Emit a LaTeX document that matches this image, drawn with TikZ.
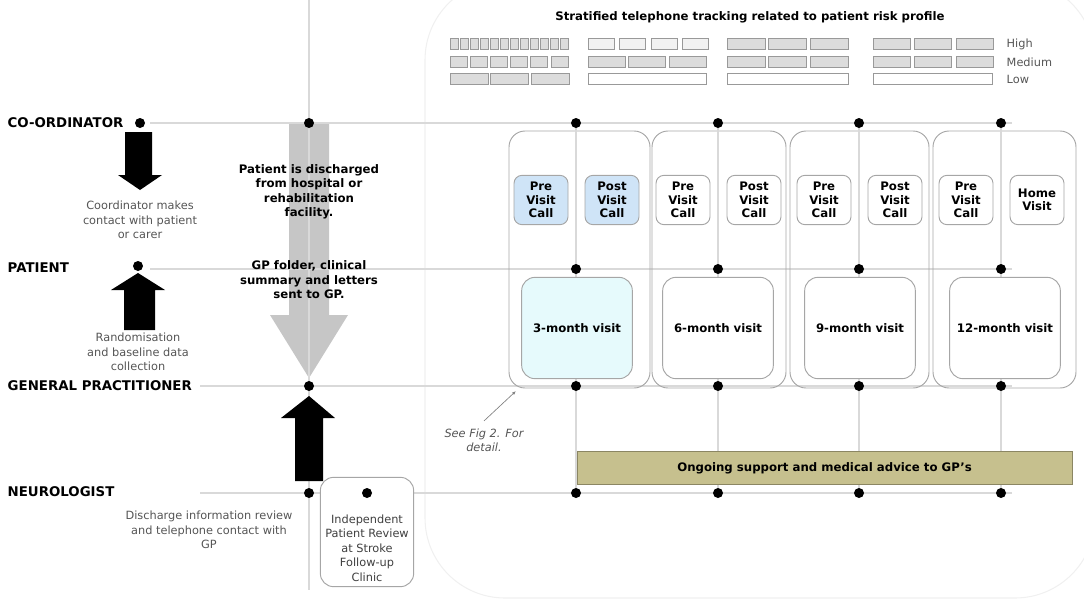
\documentclass[tikz,border=0pt]{standalone}
\usepackage{fontspec}
\setmainfont{DejaVu Sans}
\usetikzlibrary{arrows.meta}
\definecolor{lineg}{HTML}{D9D9D9}
\definecolor{txtg}{HTML}{555555}
\definecolor{callblue}{HTML}{CFE4F7}
\definecolor{visitcyan}{HTML}{E6FAFC}
\definecolor{olive}{HTML}{C6C08E}
\definecolor{cellg}{HTML}{DCDCDC}
\begin{document}
\begin{tikzpicture}[x=0.75pt,y=-0.75pt,
  dot/.style={circle,fill=black,inner sep=0pt,minimum size=7.5pt},
  role/.style={anchor=west,font=\fontsize{10}{11}\selectfont\bfseries},
  note/.style={align=center,text=txtg,font=\fontsize{8.5}{10.8}\selectfont},
  bnote/.style={align=center,font=\fontsize{8.8}{10.8}\selectfont\bfseries},
  lane/.style={draw=lineg,line width=0.8pt},
  grp/.style={draw=gray!70,rounded corners=12pt,line width=0.7pt},
  call/.style={draw=gray!70,rounded corners=6pt,line width=0.7pt,minimum width=40.5pt,minimum height=37pt,align=center,font=\fontsize{8.8}{10}\selectfont\bfseries},
  visit/.style={draw=gray!70,rounded corners=10pt,line width=0.7pt,minimum width=83pt,minimum height=76pt,font=\fontsize{8.8}{10}\selectfont\bfseries},
  cell/.style={draw=gray!80,fill=cellg,line width=0.5pt},
  blk/.style={fill=black},
]
\useasboundingbox (0,0) rectangle (1084,600);
% background region
\draw[draw=gray!12,line width=0.8pt,rounded corners=60pt] (425,-20) rectangle (1095,598);
% big grey arrow (behind the lanes)
\fill[gray!45] (289,124) -- (329,124) -- (329,315) -- (348,315) -- (309,378) -- (270,315) -- (289,315) -- cycle;
% lanes
\draw[lane] (309,0) -- (309,590);
\node[role] (lco) at (3,123) {CO-ORDINATOR};
\node[role] (lpa) at (3,268) {PATIENT};
\node[role] (lgp) at (3,386) {GENERAL PRACTITIONER};
\node[role] (lne) at (3,492) {NEUROLOGIST};
\coordinate (eco) at (1012,123);
\coordinate (epa) at (1012,269);
\coordinate (egp) at (1012,386);
\coordinate (ene) at (1012,493);
\draw[lane] (150,123) -- (eco);
\draw[lane] (150,269) -- (epa);
\draw[lane] (200,386) -- (egp);
\draw[lane] (200,493) -- (ene);
% title and risk grid
\node[font=\fontsize{8.8}{10}\selectfont\bfseries] (title) at (750,17) {Stratified telephone tracking related to patient risk profile};
\foreach \i in {0,...,11} \draw[cell] (450+\i*10,38) rectangle (458.5+\i*10,49);
\foreach \i in {0,...,5} \draw[cell] (450+\i*20.2,56) rectangle (467+\i*20.2,67);
\foreach \i in {0,...,2} \draw[cell] (450+\i*40.5,73) rectangle (488+\i*40.5,84);
\foreach \i in {0,...,3} \draw[draw=gray!80,fill=gray!10,line width=0.5pt] (588+\i*31.5,38) rectangle (614+\i*31.5,49);
\foreach \i in {0,...,2} \draw[cell] (588+\i*40.5,56) rectangle (625+\i*40.5,67);
\draw[draw=gray!80,line width=0.5pt] (588,73) rectangle (706,84);
\foreach \i in {0,...,2} \draw[cell] (727+\i*41.5,38) rectangle (765+\i*41.5,49);
\foreach \i in {0,...,2} \draw[cell] (727+\i*41.5,56) rectangle (765+\i*41.5,67);
\draw[draw=gray!80,line width=0.5pt] (727,73) rectangle (848,84);
\foreach \i in {0,...,2} \draw[cell] (873+\i*41.5,38) rectangle (910+\i*41.5,49);
\foreach \i in {0,...,2} \draw[cell] (873+\i*41.5,56) rectangle (910+\i*41.5,67);
\draw[draw=gray!80,line width=0.5pt] (873,73) rectangle (992,84);
\node[anchor=west,text=txtg,font=\fontsize{8.5}{9}\selectfont] (hi) at (1002,44) {High};
\node[anchor=west,text=txtg,font=\fontsize{8.5}{9}\selectfont] (me) at (1002,62) {Medium};
\node[anchor=west,text=txtg,font=\fontsize{8.5}{9}\selectfont] (lo) at (1002,79) {Low};
% group boxes
\draw[grp] (509,131) rectangle (650,388);
\draw[grp] (652,131) rectangle (786,388);
\draw[grp] (790,131) rectangle (929,388);
\draw[grp] (933,131) rectangle (1076,388);
% vertical timeline lines
\foreach \x in {576,718,859,1001}{
  \draw[lane] (\x,123) -- (\x,493);
}
\node[call,fill=callblue] (pre1) at (541,200) {Pre\\Visit\\Call};
\node[call,fill=callblue] (post1) at (612,200) {Post\\Visit\\Call};
\node[call,fill=white] (pre2) at (683,200) {Pre\\Visit\\Call};
\node[call,fill=white] (post2) at (754,200) {Post\\Visit\\Call};
\node[call,fill=white] (pre3) at (824,200) {Pre\\Visit\\Call};
\node[call,fill=white] (post3) at (895,200) {Post\\Visit\\Call};
\node[call,fill=white] (pre4) at (966,200) {Pre\\Visit\\Call};
\node[call,fill=white] (home4) at (1037,200) {Home\\Visit};
\node[visit,fill=visitcyan] (v3) at (577,328) {3-month visit};
\node[visit,fill=white] (v6) at (718,328) {6-month visit};
\node[visit,fill=white] (v9) at (860,328) {9-month visit};
\node[visit,fill=white] (v12) at (1005,328) {12-month visit};
\node[draw=olive!70!black,fill=olive,minimum width=371pt,minimum height=25pt,font=\fontsize{8.8}{10}\selectfont\bfseries] (sup) at (824.5,468) {Ongoing support and medical advice to GP’s};
% dots on timeline
\foreach \x/\n in {576/a,718/b,859/c,1001/d}{
  \node[dot] (c\n) at (\x,123) {};
  \node[dot] (p\n) at (\x,269) {};
  \node[dot] (g\n) at (\x,386) {};
  \node[dot] (n\n) at (\x,493) {};
}
% left column
\node[dot] (dco) at (140,123) {};
\node[dot] (dpa) at (138,266) {};
\node[dot] (dco2) at (309,123) {};
\node[dot] (dgp) at (309,386) {};
\node[dot] (dne) at (309,493) {};
\node[bnote] (dis) at (309,192) {Patient is discharged\\from hospital or\\rehabilitation\\facility.};
\node[bnote] (gpf) at (309,280) {GP folder, clinical\\summary and letters\\sent to GP.};
% black arrows
\fill[blk] (125,132) -- (152,132) -- (152,175) -- (162,175) -- (140,190) -- (118,175) -- (125,175) -- cycle;
\fill[blk] (124,330) -- (155,330) -- (155,290) -- (165,290) -- (138,273) -- (111,290) -- (124,290) -- cycle;
\fill[blk] (295,481) -- (323,481) -- (323,418) -- (335,418) -- (309,396) -- (281,418) -- (295,418) -- cycle;
\node[note] (tco) at (140,220) {Coordinator makes\\contact with patient\\or carer};
\node[note] (tpa) at (138,352) {Randomisation\\and baseline data\\collection};
\node[note] (tne) at (209,530) {Discharge information review\\and telephone contact with\\GP};
\node[draw=gray!70,fill=white,rounded corners=10pt,line width=0.7pt,minimum width=70pt,minimum height=82pt] (ipr) at (367,532) {};
\node[note,text=black!75] (iprt) at (367,548) {Independent\\Patient Review\\at Stroke\\Follow-up\\Clinic};
\node[dot] (dipr) at (367,493) {};
% see fig 2
\node[note,font=\fontsize{8.5}{10.5}\selectfont\itshape] (see) at (484,440) {See Fig 2. For\\detail.};
\coordinate (grpc) at (516,391);
\draw[gray,line width=0.5pt,-{Latex[length=3pt]}] (see.north) ++(0,-3) -- (grpc);
\end{tikzpicture}
\end{document}
